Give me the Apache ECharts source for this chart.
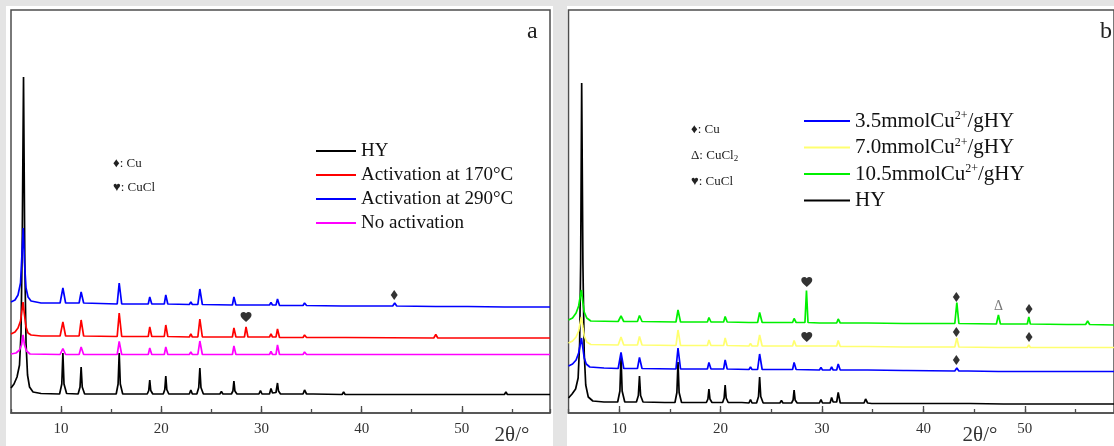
<!DOCTYPE html>
<html>
<head>
<meta charset="utf-8">
<script src="https://cdn.jsdelivr.net/npm/echarts@6/dist/echarts.min.js"></script>
<style>
  html, body { margin: 0; padding: 0; background: #e4e4e4; }
  #chart { width: 1114px; height: 446px; }
</style>
</head>
<body>
<div id="chart"></div>
<script>
// ---- XRD patterns, [2θ (°), intensity (a.u., stacked with offsets)] ----

// Panel a: effect of activation temperature
const hyA = [[5,25],[5.3,29],[5.6,36],[5.85,48],[6.0,80],[6.12,170],[6.25,336],[6.38,150],[6.5,70],[6.65,38],[6.85,26],[7.2,21],[8,19.5],
  [9.85,19],[10.07,29],[10.18,60],[10.29,29],[10.55,19.5],[11.7,19],[11.89,26],[12.0,46],[12.11,26],[12.35,19],[14.5,19],[14.6,20.5],[14.75,19],
  [15.5,19],[15.69,29],[15.8,60],[15.91,29],[16.15,19],[18.0,19],[18.1,20],[18.25,19],
  [18.6,19],[18.75,22.5],[18.85,33],[18.95,22.5],[19.15,19],[20.2,19],[20.35,23.5],[20.45,37],[20.55,23.5],[20.75,19],
  [22.8,19],[22.95,23],[23.1,19],[23.55,19],[23.74,25.5],[23.85,45],[23.96,25.5],[24.2,19],[25.85,19],[26.0,21.5],[26.15,19],
  [27.0,19],[27.15,22],[27.25,32],[27.35,22],[27.55,19],[29.75,19],[29.9,22.5],[30.05,19],[30.8,19],[30.95,24.5],[31.1,20],
  [31.45,20.5],[31.5,22.5],[31.6,30],[31.7,22],[31.9,19],[32.45,19],[32.6,21],[32.75,19],
  [33.1,19],[33.2,20.5],[33.35,19],[34.15,19],[34.3,23],[34.5,19],[34.9,19],[35.0,20.5],[35.15,19],[38.05,18.5],[38.2,21],[38.35,18.5],[41.6,18.5],[41.7,19.5],[41.8,18.5],
  [43.5,18.5],[43.6,19.5],[43.7,18.5],[44.4,18.5],[44.5,20],[44.6,18.5],[47.9,18.5],[48,19.5],[48.1,18.5],[50.4,18.5],[50.5,19.5],[50.6,18.5],[52.7,18.5],[52.8,19.5],[52.9,18.5],
  [54.25,18.5],[54.4,21],[54.55,18.5],[58.8,18.5]];

const act170 = [[5,79],[5.4,81],[5.7,85],[5.95,92],[6.1,103],[6.2,111],[6.32,100],[6.5,86],[6.7,80],[7.0,78],[8,77],[9.9,77],[10.18,91],[10.45,77],[11.8,77],[12.0,93],[12.25,77],
  [15.6,76.5],[15.8,100],[16.05,76.5],[18.7,76.5],[18.85,86],[19.05,76.5],[20.3,76.5],[20.45,88],[20.65,76.5],[22.8,76],[22.95,79],[23.1,76],[23.65,76],[23.85,94],[24.1,76],
  [25.9,76],[26.0,77],[26.15,76],[27.1,76],[27.25,85],[27.45,76],[28.3,76],[28.46,86],[28.65,76],[29.75,76],[29.9,78],[30.05,76],[30.8,76],[30.95,79],[31.1,76],[31.45,76],[31.6,84],
  [31.8,75.5],[32.45,75.5],[32.6,77],[32.75,75.5],[34.15,75.5],[34.3,78],[34.5,75.5],[38.05,75.5],[38.2,76.5],[38.35,75.5],[47.2,75],[47.4,78.5],[47.6,75],[54.25,75],[54.4,76],[54.55,75],
  [56.2,75],[56.35,76.5],[56.5,75],[58.8,75]];

const act290 = [[5,111],[5.4,113],[5.7,118],[5.95,130],[6.1,160],[6.22,185],[6.35,150],[6.5,125],[6.7,116],[7.0,112],[8,110],[9.9,110],[10.18,125],[10.45,110],[11.8,110],[12.0,121],[12.25,110],
  [15.6,109],[15.8,130],[16.05,109],[18.7,109],[18.85,116],[19.05,109],[20.3,109],[20.45,118],[20.65,109],[22.8,108.5],[22.95,111],[23.1,108.5],[23.65,108.5],[23.85,124],[24.1,108.5],
  [27.1,108],[27.25,116],[27.45,108],[29.75,108],[29.9,110],[30.05,108],[30.8,108],[30.95,110.5],[31.1,108],[31.45,108],[31.6,114],[31.8,107.5],[32.45,107.5],[32.6,109],[32.75,107.5],
  [34.15,107.5],[34.3,110],[34.5,107.5],[38.05,107],[38.2,108.5],[38.35,107],[43.1,107],[43.3,110],[43.5,107],[47.4,106.5],[47.5,107.5],[47.6,106.5],[50.4,106.5],[50.5,107.5],[50.6,106.5],
  [54.25,106],[54.4,107.5],[54.55,106],[58.8,106]];

const noAct = [[5,59],[5.5,60],[5.85,63],[6.05,68],[6.2,78],[6.35,68],[6.55,62],[6.9,59],[9.9,58.5],[10.18,64.5],[10.45,58.5],[11.8,58.5],[12.0,66],[12.25,58.5],[15.6,58.5],[15.8,71.5],[16.05,58.5],
  [18.7,58.5],[18.85,65],[19.05,58.5],[20.3,58.5],[20.45,66],[20.65,58.5],[22.8,58.5],[22.95,61],[23.1,58.5],[23.65,58.5],[23.85,72],[24.1,58.5],[25.9,58.5],[26.0,59.5],[26.15,58.5],
  [27.1,58.5],[27.25,67],[27.45,58.5],[29.75,58.5],[29.9,60.5],[30.05,58.5],[30.8,58.5],[30.95,61.5],[31.1,58.5],[31.45,58.5],[31.6,68],[31.8,58.5],[32.45,58.5],[32.6,59.5],[32.75,58.5],
  [34.15,58.5],[34.3,61],[34.5,58.5],[38.05,58.5],[38.2,59.5],[38.35,58.5],[54.25,58.5],[54.4,59.5],[54.55,58.5],[58.8,58.5]];

// Panel b: effect of copper loading
const hyB = [[5,15],[5.35,19],[5.7,24],[5.95,35],[6.1,70],[6.2,150],[6.3,330],[6.42,150],[6.55,60],[6.7,28],[6.95,16],[7.4,12],[8.5,11],
  [9.85,11],[10.07,22],[10.18,56],[10.29,22],[10.55,11],[11.7,11],[11.89,17.5],[12.0,37],[12.11,17.5],[12.35,11],
  [14.5,10.5],[14.6,12],[14.75,10.5],[15.5,10.5],[15.69,20.5],[15.8,51],[15.91,20.5],[16.15,10.5],
  [18.6,10.5],[18.75,14],[18.85,24],[18.95,14],[19.15,10.5],[20.2,10.5],[20.35,15],[20.45,28],[20.55,15],[20.75,10.5],[21.9,10.5],[22.0,11.5],[22.1,10.5],
  [22.8,10],[22.95,13.5],[23.1,10],[23.55,10],[23.74,16.5],[23.85,36],[23.96,16.5],[24.2,10],[25.85,10],[26.0,12.5],[26.15,10],
  [27.0,10],[27.15,13],[27.25,23],[27.35,13],[27.55,10],[29.75,10],[29.9,13.5],[30.05,10],
  [30.8,10],[30.95,15.5],[31.1,11],[31.45,11],[31.6,20.5],[31.8,10],[32.45,10],[32.6,12],[32.75,10],[33.1,10],[33.2,11],[33.35,10],[34.15,10],[34.3,14],[34.5,10],
  [34.9,9.5],[35.0,11],[35.15,9.5],[38.05,9.5],[38.2,11.5],[38.35,9.5],[40.9,9.5],[41.0,10.5],[41.1,9.5],[41.9,9.5],[42.0,10.5],[42.1,9.5],[43.5,9.5],[43.6,10.5],[43.7,9.5],
  [44.4,9.5],[44.5,10.5],[44.6,9.5],[47.9,9],[48.0,10],[48.1,9],[50.3,9],[50.4,10],[50.5,9],[51.4,9],[51.5,10],[51.6,9],[53.1,9],[53.2,10],[53.3,9],[54.15,9],[54.3,11],[54.45,9],[58.8,9]];

const cu35 = [[5,47],[5.4,49],[5.75,53],[6.0,60],[6.15,68],[6.28,75],[6.4,66],[6.55,55],[6.75,49],[7.1,46],[8.5,45],[9.9,44.5],[10.18,60.5],[10.45,44.5],[11.8,44.5],[12.0,55.5],[12.25,44.5],
  [15.6,44],[15.8,65],[16.05,44],[18.7,44],[18.85,50.5],[19.05,44],[20.3,44],[20.45,53],[20.65,44],[22.8,43.5],[22.95,46],[23.1,43.5],[23.65,43.5],[23.85,59],[24.1,43.5],
  [25.85,43.5],[26.0,44.5],[26.15,43.5],[27.1,43.5],[27.25,50.5],[27.45,43.5],[29.75,43],[29.9,45.5],[30.05,43],[30.8,43],[30.95,46],[31.1,43],[31.45,43],[31.6,49],[31.8,43],
  [32.45,43],[32.6,44],[32.75,43],[34.15,43],[34.3,45],[34.5,43],[38.05,42.5],[38.2,44],[38.35,42.5],[43.1,42],[43.3,45],[43.5,42],[44.2,42],[44.3,43],[44.4,42],
  [47.4,41.5],[47.5,42.5],[47.6,41.5],[50.3,41.5],[50.4,42.5],[50.5,41.5],[52.9,41.5],[53.0,42.5],[53.1,41.5],[54.15,41.5],[54.3,43],[54.45,41.5],[58.8,41.5]];

const cu70 = [[5,70],[5.4,72],[5.75,76],[6.0,82],[6.15,90],[6.27,96],[6.4,87],[6.55,77],[6.8,71],[7.2,68.5],[9.9,68],[10.18,76],[10.45,68],[11.8,68],[12.0,76.5],[12.25,68],
  [15.6,67.5],[15.8,83],[16.05,67.5],[18.7,67.5],[18.85,73],[19.05,67.5],[20.3,67.5],[20.45,75],[20.65,67.5],[22.8,67],[22.95,69.5],[23.1,67],[23.65,67],[23.85,78],[24.1,67],
  [25.85,67],[26.0,68],[26.15,67],[27.1,67],[27.25,72.5],[27.45,67],[28.3,67],[28.46,69],[28.65,67],[29.75,67],[29.9,68.5],[30.05,67],[30.8,67],[30.95,69],[31.1,67],[31.45,67],[31.6,72.5],
  [31.8,66.5],[34.15,66.5],[34.3,68],[34.5,66.5],[38.05,66],[38.2,67],[38.35,66],[43.1,66],[43.3,75],[43.5,66],[47.3,65.5],[47.4,66.5],[47.5,65.5],[50.25,65.5],[50.4,68],[50.55,65.5],[58.8,65.5]];

const cu105 = [[5,93],[5.4,95],[5.75,100],[6.0,107],[6.15,116],[6.27,123],[6.4,112],[6.55,101],[6.8,95],[7.2,92],[9.9,91.5],[10.18,97],[10.45,91.5],[11.8,91.5],[12.0,97.5],[12.25,91.5],
  [15.6,91],[15.8,103],[16.05,91],[18.7,91],[18.85,95.5],[19.05,91],[20.3,91],[20.45,96.5],[20.65,91],[22.8,90.5],[22.95,92.5],[23.1,90.5],[23.65,90.5],[23.85,100.5],[24.1,90.5],
  [25.85,90.5],[26.0,91.5],[26.15,90.5],[27.1,90.5],[27.25,94.5],[27.45,90.5],[28.32,90.5],[28.47,122.5],[28.62,90.5],[29.75,90],[29.9,91.5],[30.05,90],[30.8,90],[30.95,92],[31.1,90],
  [31.45,90],[31.6,94],[31.8,90],[32.45,90],[32.6,91],[32.75,90],[34.15,90],[34.3,91.5],[34.5,90],[38.05,89.5],[38.2,90.5],[38.35,89.5],[43.1,89.5],[43.3,110.5],[43.5,89.5],
  [47.2,89],[47.4,98],[47.6,89],[50.25,89],[50.4,96],[50.55,89],[54.15,88.5],[54.3,89.5],[54.45,88.5],[56.0,88.5],[56.2,92],[56.4,88.5],[58.8,88]];

// Phase markers placed above the assigned reflections
const cuMarkA    = [[43.25, 118]];
const cuclMarkA  = [[28.46, 96]];
const cuMarkB    = [[43.25, 53], [43.25, 81], [50.42, 76], [43.25, 116], [50.42, 104]];
const cuclMarkB  = [[28.5, 76], [28.5, 131]];
const cucl2MarkB = [[47.42, 107]];

// Legend entries
const namesA = ['HY', 'Activation at 170°C', 'Activation at 290°C', 'No activation'];
const namesB = ['3.5mmolCu2+/gHY', '7.0mmolCu2+/gHY', '10.5mmolCu2+/gHY', 'HY'];

// ---- styling ----
const SERIF = "'Liberation Serif', 'Times New Roman', serif";
const FRAME = '#4d4d4d';
const HEART = 'path://M12 21.35l-1.45-1.32C5.4 15.36 2 12.28 2 8.5 2 5.42 4.42 3 7.5 3c1.74 0 3.41.81 4.5 2.09C13.09 3.81 14.76 3 16.5 3 19.58 3 22 5.42 22 8.5c0 3.78-3.4 6.86-8.55 11.54L12 21.35z';

function pattern(name, data, color, xi, yi) {
  return {
    type: 'line', name, data, xAxisIndex: xi, yAxisIndex: yi,
    showSymbol: false, symbol: 'none', silent: true,
    lineStyle: { color, width: 1.7 }, itemStyle: { color },
    z: 3
  };
}
function marks(data, symbol, size, xi, yi) {
  return {
    type: 'scatter', data, xAxisIndex: xi, yAxisIndex: yi, symbol, symbolSize: size,
    itemStyle: { color: '#000' }, silent: true, z: 6
  };
}

function mainAxis(gridIndex, nameGap) {
  return {
    type: 'value', gridIndex, min: 5, max: 58.8,
    splitNumber: 5, minInterval: 10, maxInterval: 10,
    position: 'bottom',
    axisLine: { show: true, lineStyle: { color: FRAME, width: 1.5 } },
    axisTick: { show: true, inside: true, length: 7, lineStyle: { color: FRAME, width: 1.3 } },
    axisLabel: { showMinLabel: false, showMaxLabel: false, margin: 9, fontSize: 15, color: '#333', fontFamily: SERIF },
    splitLine: { show: false },
    name: '2θ/°', nameLocation: 'end', nameGap,
    nameTextStyle: { fontSize: 21, color: '#333', fontFamily: SERIF, align: 'center', verticalAlign: 'top', padding: [12, 0, 0, 0] }
  };
}
function minorAxis(gridIndex) {
  return {
    type: 'value', gridIndex, min: 5, max: 58.8, interval: 5, position: 'bottom',
    axisLine: { show: false },
    axisTick: { show: true, inside: true, length: 4, lineStyle: { color: FRAME, width: 1.3 } },
    axisLabel: { show: false }, splitLine: { show: false }
  };
}

const chart = echarts.init(document.getElementById('chart'), null, { renderer: 'canvas' });

chart.setOption({
  animation: false,
  backgroundColor: '#e4e4e4',
  grid: [
    { left: 11, top: 10, width: 539, height: 403, show: true, backgroundColor: '#fff', borderColor: FRAME, borderWidth: 1.5 },
    { left: 568.5, top: 10, width: 553.6, height: 403, show: true, backgroundColor: '#fff', borderColor: FRAME, borderWidth: 1.5 }
  ],
  xAxis: [mainAxis(0, -38), minorAxis(0), mainAxis(1, -134), minorAxis(1)],
  yAxis: [
    { type: 'value', gridIndex: 0, min: 0, max: 403, show: false },
    { type: 'value', gridIndex: 1, min: 0, max: 403, show: false }
  ],
  legend: [
    {
      data: namesA, orient: 'vertical', left: 316, top: 141, padding: 0,
      icon: 'rect', itemWidth: 40, itemHeight: 2, itemGap: 4, selectedMode: false,
      textStyle: { fontFamily: SERIF, fontSize: 19, lineHeight: 20, color: '#111' }
    },
    {
      data: namesB, orient: 'vertical', left: 804, top: 110, padding: 0,
      icon: 'rect', itemWidth: 46, itemHeight: 2, itemGap: 4.5, selectedMode: false,
      formatter: n => n.replace('2+', '{sup|2+}'),
      textStyle: {
        fontFamily: SERIF, fontSize: 21, lineHeight: 22, color: '#111',
        rich: { sup: { fontFamily: SERIF, fontSize: 12, lineHeight: 12, verticalAlign: 'top', color: '#111' } }
      }
    }
  ],
  graphic: [
    { type: 'rect', z: -10, silent: true, shape: { x: 6, y: 6, width: 547, height: 440 }, style: { fill: '#fff' } },
    { type: 'rect', z: -10, silent: true, shape: { x: 567, y: 6, width: 547, height: 440 }, style: { fill: '#fff' } },
    { type: 'text', z: 100, left: 527, top: 20, style: { text: 'a', font: '24px ' + SERIF, fill: '#222' } },
    { type: 'text', z: 100, left: 1100, top: 20, style: { text: 'b', font: '24px ' + SERIF, fill: '#222' } },
    { type: 'text', z: 100, left: 113, top: 157, style: { text: '♦: Cu', font: '13px ' + SERIF, fill: '#222' } },
    { type: 'text', z: 100, left: 113, top: 181, style: { text: '♥: CuCl', font: '13px ' + SERIF, fill: '#222' } },
    { type: 'text', z: 100, left: 691, top: 123, style: { text: '♦: Cu', font: '13px ' + SERIF, fill: '#222' } },
    { type: 'text', z: 100, left: 691, top: 148, style: {
        text: 'Δ: CuCl{sub|2}', font: '13px ' + SERIF, fill: '#222', lineHeight: 15,
        rich: { sub: { fontSize: 9, fontFamily: SERIF, lineHeight: 9, verticalAlign: 'bottom', fill: '#222' } } } },
    { type: 'text', z: 100, left: 691, top: 175, style: { text: '♥: CuCl', font: '13px ' + SERIF, fill: '#222' } }
  ],
  series: [
    pattern(namesA[0], hyA, '#000000', 0, 0),
    pattern(namesA[1], act170, '#ff0000', 0, 0),
    pattern(namesA[2], act290, '#0000ff', 0, 0),
    pattern(namesA[3], noAct, '#ff00ff', 0, 0),
    marks(cuMarkA, 'diamond', [7, 10], 0, 0),
    marks(cuclMarkA, HEART, [11, 10], 0, 0),

    pattern(namesB[3], hyB, '#000000', 2, 1),
    pattern(namesB[0], cu35, '#0000ff', 2, 1),
    pattern(namesB[1], cu70, '#ffff70', 2, 1),
    pattern(namesB[2], cu105, '#00f000', 2, 1),
    marks(cuMarkB, 'diamond', [7, 10], 2, 1),
    marks(cuclMarkB, HEART, [11, 10], 2, 1),
    {
      type: 'scatter', data: cucl2MarkB, xAxisIndex: 2, yAxisIndex: 1, symbolSize: 1, silent: true, z: 6,
      itemStyle: { color: 'rgba(0,0,0,0)' },
      label: { show: true, position: 'inside', formatter: 'Δ', fontSize: 14, fontFamily: SERIF, color: '#555' }
    }
  ]
});
</script>
</body>
</html>
